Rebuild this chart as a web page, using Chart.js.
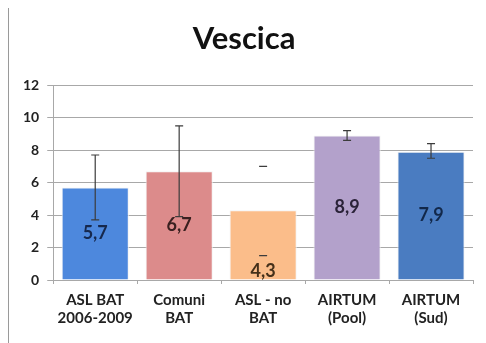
<!DOCTYPE html>
<html><head><meta charset="utf-8">
<script src="https://cdn.jsdelivr.net/npm/chart.js@4/dist/chart.umd.min.js"></script>
<style>
html,body{margin:0;padding:0;background:#fff;}
#wrap{position:relative;width:486px;height:343px;}
#edge{position:absolute;left:8px;top:8px;width:1px;height:335px;background:#9a9a9a;}
</style></head>
<body><div id="wrap"><div id="edge"></div><canvas id="c" width="486" height="343"></canvas></div>
<script>
const categories = [["ASL BAT","2006-2009"],["Comuni","BAT"],["ASL - no","BAT"],["AIRTUM","(Pool)"],["AIRTUM","(Sud)"]];
const values = [5.7, 6.7, 4.3, 8.9, 7.9];
const labelsText = ["5,7","6,7","4,3","8,9","7,9"];
const errLow = [3.7, 3.9, 1.5, 8.6, 7.5];
const errHigh = [7.7, 9.5, 7.0, 9.2, 8.4];
const yTicks = [0,2,4,6,8,10,12];

const barColors = ['#4d88dd','#dc8b8b','#fbbd8a','#b3a1cb','#4a7cc1'];
const labelColors = ['#16284d','#3a2020','#45301a','#2a2238','#12284a'];
const errStem = [true,true,false,true,true];
const labelAtBase = [false,false,true,false,false];

const errPlugin = {
  id:'errbars',
  afterDatasetsDraw(chart){
    const ctx = chart.ctx, meta = chart.getDatasetMeta(0), y = chart.scales.y;
    ctx.save();
    ctx.strokeStyle = '#3c3c3c'; ctx.lineWidth = 1.2;
    meta.data.forEach((bar,i)=>{
      const x = bar.x, yl = y.getPixelForValue(errLow[i]), yh = y.getPixelForValue(errHigh[i]);
      ctx.beginPath();
      if (errStem[i]) { ctx.moveTo(x,yl); ctx.lineTo(x,yh); }
      ctx.moveTo(x-4,yl); ctx.lineTo(x+4,yl);
      ctx.moveTo(x-4,yh); ctx.lineTo(x+4,yh);
      ctx.stroke();
    });
    ctx.font = 'bold 18px Lato, "Open Sans", sans-serif';
    ctx.textAlign='center'; ctx.textBaseline='middle';
    meta.data.forEach((bar,i)=>{
      const ly = labelAtBase[i] ? y.getPixelForValue(0.55) : (bar.y+bar.base)/2;
      ctx.fillStyle = labelColors[i];
      ctx.fillText(labelsText[i], bar.x, ly);
    });
    ctx.restore();
  }
};

new Chart(document.getElementById('c'), {
  type:'bar',
  data:{ labels: categories, datasets:[{ data: values, backgroundColor: barColors, borderColor:'#f2f2f2', borderWidth:1, barPercentage:0.8, categoryPercentage:1.0 }]},
  options:{
    responsive:false, animation:false,
    layout:{ padding:{ left:15, right:13, top:6, bottom:9 } },
    plugins:{
      legend:{display:false}, tooltip:{enabled:false},
      title:{ display:true, text:'Vescica', color:'#111', font:{ family:'Lato, "Open Sans", sans-serif', size:31, weight:'bold' }, padding:{ top:14, bottom:28 } }
    },
    scales:{
      y:{ min:0, max:12, afterBuildTicks(ax){ ax.ticks = yTicks.map(v=>({value:v})); },
        grid:{ color:'#a8a8a8', lineWidth:1, tickLength:6, tickColor:'#a8a8a8' },
        border:{ color:'#a8a8a8' },
        ticks:{ color:'#222', font:{ family:'Lato, "Open Sans", sans-serif', size:14, weight:'bold' }, padding:8 } },
      x:{ grid:{ display:true, drawOnChartArea:false, offset:true, tickLength:4, tickColor:'#a8a8a8' },
        border:{ color:'#a8a8a8' },
        ticks:{ color:'#222', font:{ family:'Lato, "Open Sans", sans-serif', size:15, weight:'bold' }, padding:7 } }
    }
  },
  plugins:[errPlugin]
});
</script></body></html>
